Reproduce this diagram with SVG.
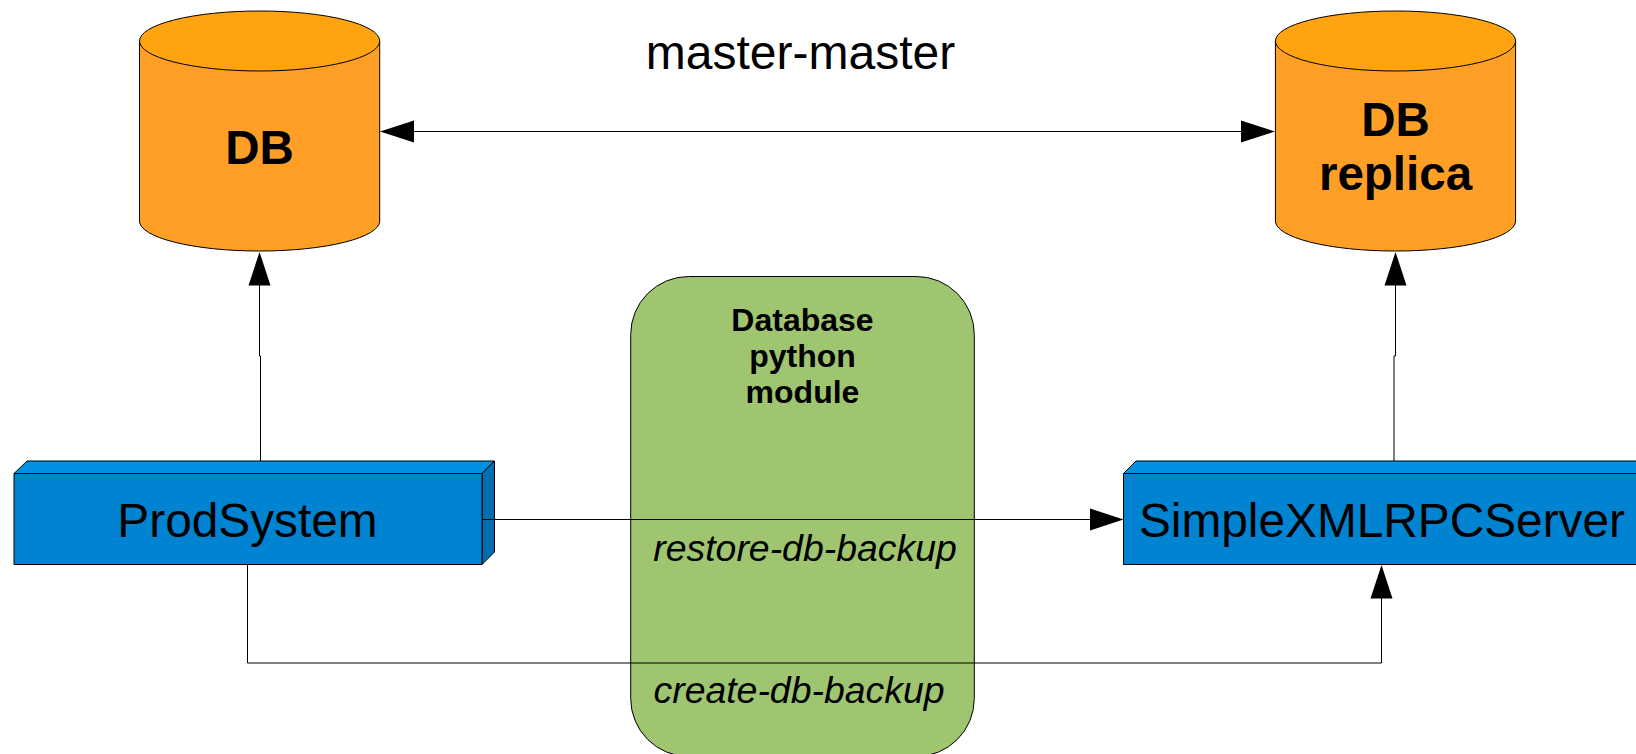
<svg xmlns="http://www.w3.org/2000/svg" width="1636" height="754" viewBox="0 0 1636 754">
<style>
text{font-family:"Liberation Sans",Arial,sans-serif;fill:#000;text-anchor:middle}
.s{stroke:#000;stroke-width:1;stroke-linejoin:round}
.side{fill:#ff9f26}.top{fill:#ffa310}
.front{fill:#0084d1}.roof{fill:#0091e3}.flank{fill:#006fb0}
.c{fill:none;stroke:#000;stroke-width:1}
.h{fill:#000;stroke:none}
.b{font-weight:bold}.i{font-style:italic}
.big{font-size:47.5px}.mid{font-size:47.8px}.sm{font-size:32px}.lab{font-size:37.4px}
</style>
<rect width="1636" height="754" fill="#fff"/>
<g id="db">
<path class="s side" d="M139.5 41V221A120 30 0 0 0 379.7 221V41Z"/>
<ellipse class="s top" cx="259.6" cy="41" rx="120.1" ry="30"/>
<text class="b big" x="259.5" y="163.5">DB</text>
</g>
<g id="db-replica">
<path class="s side" d="M1275.4 41V221A120 30 0 0 0 1515.6 221V41Z"/>
<ellipse class="s top" cx="1395.5" cy="41" rx="120.1" ry="30"/>
<text class="b big" x="1395.5" y="136">DB</text>
<text class="b big" x="1395.5" y="190">replica</text>
</g>
<g id="module">
<rect class="s" x="630.7" y="276.5" width="343.6" height="480" rx="58" ry="58" fill="#9fc570"/>
<text class="b sm" x="802.5" y="331">Database</text>
<text class="b sm" x="802.5" y="367">python</text>
<text class="b sm" x="802.5" y="403">module</text>
<text class="i lab" x="805" y="561">restore-db-backup</text>
<text class="i lab" x="799" y="703">create-db-backup</text>
</g>
<g id="prodsystem">
<path class="s roof" d="M14 473.5L27 461H494.5L482 473.5Z"/>
<path class="s flank" d="M482 473.5L494.5 461V552L482 564.5Z"/>
<rect class="s front" x="14" y="473.5" width="468" height="91"/>
<text class="mid" x="247.5" y="536.5">ProdSystem</text>
</g>
<g id="simplexmlrpcserver">
<path class="s roof" d="M1123.5 473.5L1136 461H1660L1648 473.5Z"/>
<rect class="s front" x="1123.5" y="473.5" width="530" height="91"/>
<text class="mid" x="1382" y="536.5">SimpleXMLRPCServer</text>
</g>
<text id="master-label" x="800.5" y="69" font-size="48">master-master</text>
<g id="connectors">
<path class="c" d="M414 131.5H1241"/>
<polygon class="h" points="380,131.5 414,120.5 414,142.5"/>
<polygon class="h" points="1275,131.5 1241,120.5 1241,142.5"/>
<path class="c" d="M260.5 461V356H259.5V285"/>
<polygon class="h" points="259.5,252 248.5,285.5 270.5,285.5"/>
<path class="c" d="M1394 461V356H1395.5V285"/>
<polygon class="h" points="1395.5,252 1384.5,285.5 1406.5,285.5"/>
<path class="c" d="M482 519.5H1090"/>
<polygon class="h" points="1123.5,519.5 1090,508.5 1090,530.5"/>
<path class="c" d="M247.5 565V663H1381.5V598"/>
<polygon class="h" points="1381.5,565 1370.5,598.5 1392.5,598.5"/>
</g>
</svg>
